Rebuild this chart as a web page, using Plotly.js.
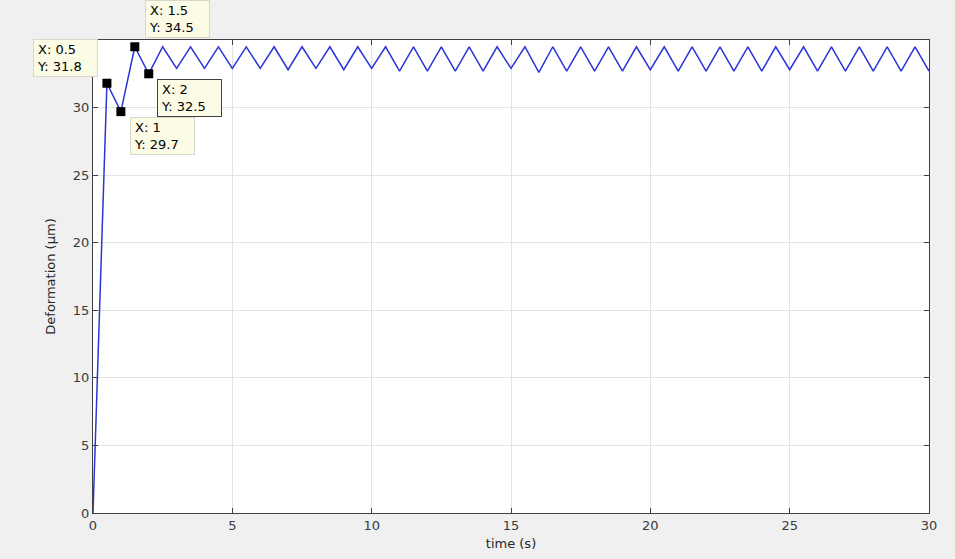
<!DOCTYPE html>
<html>
<head>
<meta charset="utf-8">
<script src="https://cdn.plot.ly/plotly-3.0.1.min.js"></script>
<style>
html,body{margin:0;padding:0;background:#f0f0f0;}
#chart{width:955px;height:559px;}
</style>
</head>
<body>
<div id="chart"></div>
<script>
// time samples (s)
const timeS = [0,0.5,1,1.5,2,2.5,3,3.5,4,4.5,5,5.5,6,6.5,7,7.5,8,8.5,9,9.5,10,
  10.5,11,11.5,12,12.5,13,13.5,14,14.5,15,15.5,16,16.5,17,17.5,18,18.5,19,19.5,20,
  20.5,21,21.5,22,22.5,23,23.5,24,24.5,25,25.5,26,26.5,27,27.5,28,28.5,29,29.5,30];
// deformation (µm)
const deformation = [0,31.8,29.7,34.5,32.5,34.5,32.9,34.5,32.9,34.5,32.9,34.5,32.9,34.5,32.8,34.5,32.9,34.5,32.8,34.5,32.9,
  34.5,32.7,34.5,32.7,34.5,32.7,34.5,32.7,34.5,32.9,34.5,32.6,34.5,32.7,34.5,32.7,34.5,32.7,34.5,32.8,
  34.5,32.7,34.5,32.7,34.5,32.7,34.5,32.7,34.5,32.8,34.5,32.7,34.5,32.7,34.5,32.7,34.5,32.7,34.5,32.7];
// data tips
const tipX = [0.5, 1, 1.5, 2];
const tipY = [31.8, 29.7, 34.5, 32.5];
const tipAnchorX = ['right','left','left','left'];
const tipAnchorY = ['bottom','top','bottom','top'];
const tipShiftX = [-9, 9, 10, 8];
const tipShiftY = [6, -5, 9, -5];
const tipBorder = ['#d8d8c8','#d8d8c8','#d8d8c8','#404040'];

const xTicks = [0,5,10,15,20,25,30];
const yTicks = [0,5,10,15,20,25,30];

const FONT = 'DejaVu Sans, Liberation Sans, Arial, sans-serif';

const traces = [
  {x: timeS, y: deformation, type: 'scatter', mode: 'lines',
   line: {color: '#2b35d8', width: 1.5}, hoverinfo: 'skip'},
  {x: tipX, y: tipY, type: 'scatter', mode: 'markers',
   marker: {symbol: 'square', size: 9, color: '#000000'}, hoverinfo: 'skip', cliponaxis: false}
];

const annotations = tipX.map((xv, i) => ({
  x: xv, y: tipY[i], xref: 'x', yref: 'y',
  text: 'X: ' + xv + '<br>Y: ' + tipY[i],
  showarrow: false, align: 'left', width: 57, height: 30,
  xanchor: tipAnchorX[i], yanchor: tipAnchorY[i],
  xshift: tipShiftX[i], yshift: tipShiftY[i],
  bgcolor: '#fbfbe6', bordercolor: tipBorder[i], borderwidth: 1, borderpad: 3,
  font: {family: FONT, size: 13, color: '#000000'}
}));

const axisCommon = {
  showline: true, linecolor: '#404040', linewidth: 1, mirror: 'ticks',
  ticks: 'inside', ticklen: 5, tickcolor: '#404040',
  showgrid: true, gridcolor: '#e3e3e3', gridwidth: 1, zeroline: false,
  tickfont: {family: FONT, size: 13, color: '#3a3a3a'}
};

const layout = {
  width: 955, height: 559,
  paper_bgcolor: '#f0f0f0', plot_bgcolor: '#ffffff',
  margin: {l: 93, r: 26, t: 40, b: 46},
  showlegend: false,
  xaxis: Object.assign({}, axisCommon, {
    range: [0, 30], tickvals: xTicks, ticktext: xTicks.map(String),
    title: {text: 'time (s)', standoff: 7,
      font: {family: FONT, size: 13, color: '#262626'}}
  }),
  yaxis: Object.assign({}, axisCommon, {
    range: [0, 35], tickvals: yTicks, ticktext: yTicks.map(String),
    title: {text: 'Deformation (µm)', standoff: 14,
      font: {family: FONT, size: 13, color: '#262626'}}
  }),
  annotations: annotations
};

Plotly.newPlot('chart', traces, layout, {displayModeBar: false, staticPlot: true});
</script>
</body>
</html>
